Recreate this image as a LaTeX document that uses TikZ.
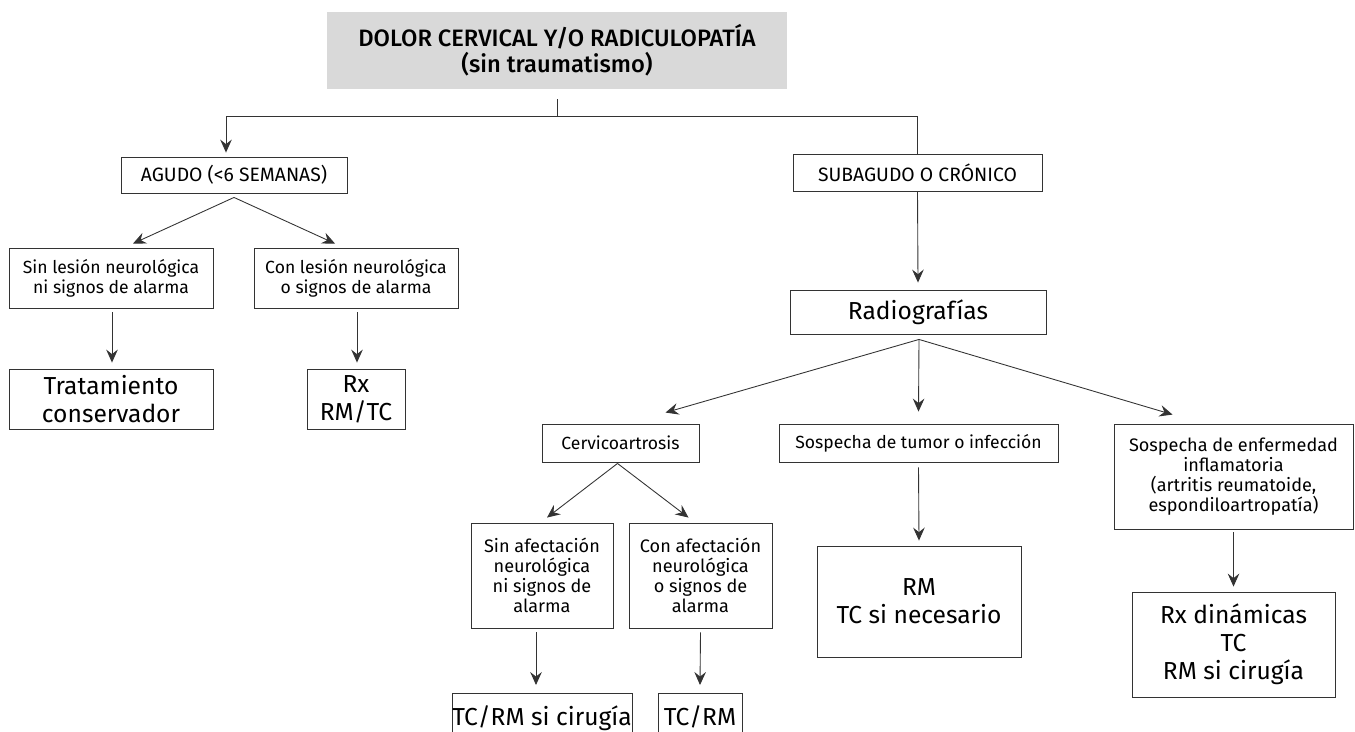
\documentclass[tikz,border=0pt]{standalone}
\usepackage{fontspec}
\setmainfont{Fira Sans}
\newfontfamily\titlefont{Fira Sans Medium}
\usetikzlibrary{arrows.meta,calc}

\begin{document}
\begin{tikzpicture}[x=0.02cm, y=-0.02cm,
                    every node/.style={inner sep=0pt, align=center, font=\fontsize{10}{11.5}\selectfont},
                    box/.style={draw=black!80, line width=.5pt},
                    caps/.style={font=\fontsize{11}{12}\selectfont},
                    big/.style={font=\fontsize{14}{15.8}\selectfont},
                    mid/.style={font=\fontsize{10.3}{11.3}\selectfont},
                    link/.style={draw=black!80, line width=.5pt},
                    arr/.style={link, -{Stealth[length=7.4pt,width=6.6pt,inset=2.6pt]}}]
  \useasboundingbox (0,0) rectangle (1355,731);
  \clip (0,0) rectangle (1355,731);
  \node[fill=black!15, minimum width=9.2cm, minimum height=1.54cm,
        font=\titlefont\fontsize{13.5}{14.7}\selectfont] (title) at (557,50.5)
        {DOLOR CERVICAL Y/O RADICULOPATÍA\\(sin traumatismo)};
  % agudo
  \node[box, caps, minimum width=4.52cm, minimum height=.72cm] (agudo) at (234,175) {AGUDO (<6 SEMANAS)};
  \node[box, minimum width=4.08cm, minimum height=1.2cm] (sinles) at (111,278) {Sin lesión neurológica\\ni signos de alarma};
  \node[box, minimum width=4.08cm, minimum height=1.2cm] (conles) at (356,278) {Con lesión neurológica\\o signos de alarma};
  \node[box, big, minimum width=4.08cm, minimum height=1.2cm] (trat) at (111,399) {Tratamiento\\conservador};
  \node[box, big, minimum width=1.96cm, minimum height=1.2cm] (rxtc) at (356,399) {Rx\\RM/TC};
  % subagudo
  \node[box, caps, minimum width=4.98cm, minimum height=.74cm] (subag) at (917.5,172.5) {SUBAGUDO O CRÓNICO};
  \node[box, big, minimum width=5.12cm, minimum height=.88cm] (radio) at (918,312) {Radiografías};
  \node[box, minimum width=3.14cm, minimum height=.76cm] (cervico) at (620.5,443) {Cervicoartrosis};
  \node[box, minimum width=5.58cm, minimum height=.76cm] (tumor) at (918.5,443) {Sospecha de tumor o infección};
  \node[box, mid, minimum width=4.78cm, minimum height=2.1cm] (inflam) at (1233.5,476.5)
        {Sospecha de enfermedad\\inflamatoria\\(artritis reumatoide,\\espondiloartropatía)};
  \node[box, big, minimum width=4.08cm, minimum height=2.22cm] (rmtc) at (919,601.5) {RM\\TC si necesario};
  \node[box, big, minimum width=4.06cm, minimum height=2.1cm] (rxdin) at (1233.5,644.5) {Rx dinámicas\\TC\\RM si cirugía};
  \node[box, mid, minimum width=2.84cm, minimum height=2.1cm] (sinaf) at (542,575.5) {Sin afectación\\neurológica\\ni signos de\\alarma};
  \node[box, mid, minimum width=2.86cm, minimum height=2.1cm] (conaf) at (700.5,575.5) {Con afectación\\neurológica\\o signos de\\alarma};
  \node[box, big, anchor=north, minimum width=3.6cm, text height=.64cm, text depth=1cm] (tcrmsi) at (542,693) {TC/RM si cirugía};
  \node[box, big, anchor=north, minimum width=1.68cm, text height=.64cm, text depth=1cm] (tcrm) at (700,693) {TC/RM};
  % connectors
  \coordinate (split) at ($(title.south)+(0,27)$);
  \draw[link] ($(title.south)+(0,10)$) -- (split);
  \draw[arr] (split) -| ($(agudo.north)+(-8,-4)$);
  \draw[link] (split) -| (subag.north);
  \draw[arr] ($(agudo.south)+(0,4)$) -- ($(sinles.north)+(22,-4)$);
  \draw[arr] ($(agudo.south)+(0,4)$) -- ($(conles.north)+(-21,-4)$);
  \draw[arr] ($(sinles.south)+(1,4)$) -- ($(trat.north)+(1,-6)$);
  \draw[arr] ($(conles.south)+(1,4)$) -- ($(rxtc.north)+(1,-6)$);
  \draw[arr] (subag.south) -- ($(radio.north)+(0,-7)$);
  \draw[arr] ($(radio.south)+(1,5)$) -- ($(cervico.north)+(45,-11)$);
  \draw[arr] ($(radio.south)+(1,5)$) -- ($(tumor.north)+(0,-12)$);
  \draw[arr] ($(radio.south)+(1,5)$) -- ($(inflam.north)+(-61,-9)$);
  \draw[arr] ($(cervico.south)+(-3,1)$) -- ($(sinaf.north)+(5,-5)$);
  \draw[arr] ($(cervico.south)+(-3,1)$) -- ($(conaf.north)+(-12,-5)$);
  \draw[arr] ($(sinaf.south)+(-6,4)$) -- ($(tcrmsi.north)+(-6,-8)$);
  \draw[arr] ($(conaf.south)+(0,4)$) -- ($(tcrm.north)+(0,-8)$);
  \draw[arr] ($(tumor.south)+(0,5)$) -- ($(rmtc.north)+(0,-5)$);
  \draw[arr] ($(inflam.south)+(0,3)$) -- ($(rxdin.north)+(0,-5)$);
\end{tikzpicture}
\end{document}
